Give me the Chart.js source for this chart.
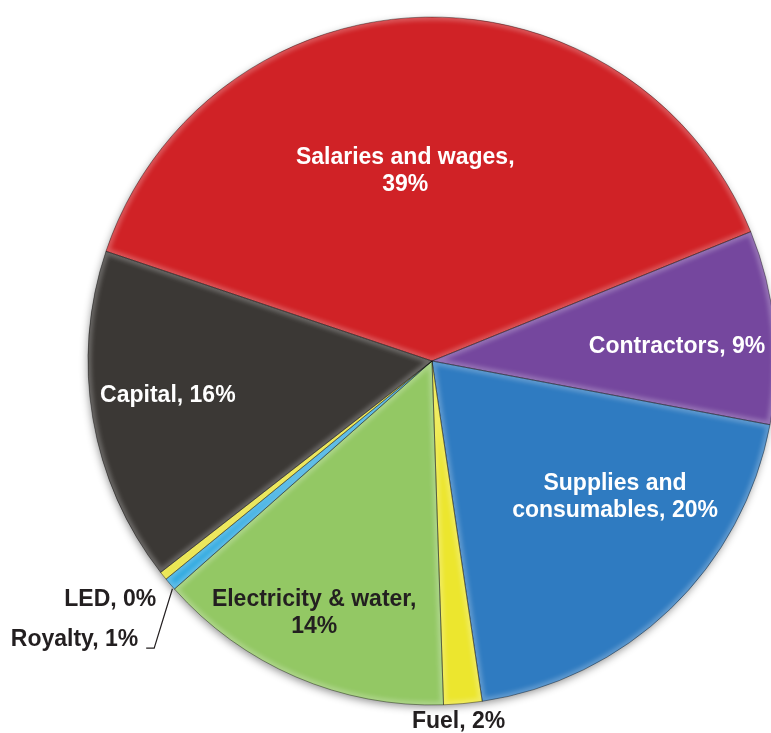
<!DOCTYPE html>
<html>
<head>
<meta charset="utf-8">
<title>Operating cost breakdown</title>
<script src="https://cdn.jsdelivr.net/npm/chart.js@4/dist/chart.umd.min.js"></script>
<style>
  html, body { margin: 0; padding: 0; background: #ffffff; overflow: hidden; }
  #wrap { width: 771px; height: 733px; overflow: hidden; }
  canvas { display: block; }
</style>
</head>
<body>
<div id="wrap"><canvas id="pie" width="800" height="733"></canvas></div>
<script>
// Cost categories, clockwise from the left edge of the largest slice
const categories = ['Salaries and wages', 'Contractors', 'Supplies and consumables', 'Fuel',
                    'Electricity & water', 'Royalty', 'LED', 'Capital'];
// Share of total cost (%)
const shares = [38.7, 9.1, 19.7, 1.8, 14.0, 0.6, 0.4, 15.7];

const sliceColors = ['#D02226', '#75479E', '#2F7BC1', '#ECE62E',
                     '#93C864', '#2FA9E0', '#E6E02C', '#3B3835'];

// Label placement: polar anchor on the slice's mid-angle (fraction of radius) plus a pixel nudge
const labelStyle = [
  { frac: 0.552, dx: -21, dy: 0,   color: '#ffffff', align: 'center', breakAfter: 'wages,' },
  { frac: 0.713, dx: 1,   dy: 10,  color: '#ffffff', align: 'center' },
  { frac: 0.663, dx: 25,  dy: -28, color: '#ffffff', align: 'center', breakAfter: 'and' },
  { frac: 1.052, dx: -6,  dy: 0,   color: '#231F20', align: 'center' },
  { frac: 0.808, dx: -8,  dy: -3,  color: '#231F20', align: 'center', breakAfter: 'water,' },
  { frac: 1.0,   dx: -32, dy: 56,  color: '#231F20', align: 'right', leader: true },
  { frac: 1.0,   dx: -7,  dy: 24,  color: '#231F20', align: 'right' },
  { frac: 0.773, dx: -2,  dy: -10, color: '#ffffff', align: 'center' }
];

const total = shares.reduce((a, b) => a + b, 0);
const FONT = 'bold 23px "Liberation Sans", Arial, Helvetica, sans-serif';
const LINE_H = 27;

function slicePath(ctx, a) {
  ctx.beginPath();
  ctx.moveTo(a.x, a.y);
  ctx.arc(a.x, a.y, a.outerRadius, a.startAngle, a.endAngle);
  ctx.closePath();
}

function arcProps(el) {
  return el.getProps(['x', 'y', 'startAngle', 'endAngle', 'outerRadius'], true);
}

// Soft drop shadow under the whole pie
const pieShadow = {
  id: 'pieShadow',
  beforeDatasetsDraw(chart) {
    const arcs = chart.getDatasetMeta(0).data;
    if (!arcs.length) return;
    const a = arcProps(arcs[0]);
    const ctx = chart.ctx;
    ctx.save();
    ctx.shadowColor = 'rgba(0,0,0,0.45)';
    ctx.shadowBlur = 9;
    ctx.shadowOffsetX = -1;
    ctx.shadowOffsetY = 3;
    ctx.fillStyle = '#ffffff';
    ctx.beginPath();
    ctx.arc(a.x, a.y, a.outerRadius - 1, 0, Math.PI * 2);
    ctx.fill();
    ctx.restore();
  }
};

// Rounded bevel: light rim inside each slice and a dark seam between slices
const bevel = {
  id: 'bevel',
  afterDatasetsDraw(chart) {
    const ctx = chart.ctx;
    chart.getDatasetMeta(0).data.forEach((el) => {
      const a = arcProps(el);
      ctx.save();
      slicePath(ctx, a);
      ctx.clip();
      ctx.filter = 'blur(2px)';
      ctx.lineWidth = 7;
      ctx.strokeStyle = 'rgba(255,255,255,0.24)';
      slicePath(ctx, a);
      ctx.stroke();
      ctx.restore();

      ctx.save();
      ctx.lineWidth = 1;
      ctx.strokeStyle = 'rgba(0,0,0,0.38)';
      slicePath(ctx, a);
      ctx.stroke();
      ctx.restore();
    });
  }
};

// Category labels with rounded percentages
const sliceLabels = {
  id: 'sliceLabels',
  afterDraw(chart) {
    const ctx = chart.ctx;
    ctx.save();
    ctx.font = FONT;
    ctx.textBaseline = 'middle';
    chart.getDatasetMeta(0).data.forEach((el, i) => {
      const a = arcProps(el);
      const st = labelStyle[i];
      const mid = (a.startAngle + a.endAngle) / 2;
      const r = a.outerRadius * st.frac;
      const px = a.x + Math.cos(mid) * r + st.dx;
      const py = a.y + Math.sin(mid) * r + st.dy;
      const pct = Math.round(shares[i] / total * 100);
      const text = categories[i] + ', ' + pct + '%';
      let lines = [text];
      if (st.breakAfter) {
        const k = text.indexOf(st.breakAfter) + st.breakAfter.length;
        lines = [text.slice(0, k).trim(), text.slice(k).trim()];
      }
      ctx.fillStyle = st.color;
      ctx.textAlign = st.align;
      const y0 = py - (lines.length - 1) * LINE_H / 2;
      lines.forEach((ln, j) => ctx.fillText(ln, px, y0 + j * LINE_H));

      if (st.leader) {
        const ex = a.x + Math.cos(mid) * (a.outerRadius + 1);
        const ey = a.y + Math.sin(mid) * (a.outerRadius + 1);
        ctx.beginPath();
        ctx.lineWidth = 1.2;
        ctx.strokeStyle = '#231F20';
        ctx.moveTo(ex + 3, ey + 4);
        ctx.lineTo(px + 16, py + 8);
        ctx.lineTo(px + 8, py + 8);
        ctx.stroke();
      }
    });
    ctx.restore();
  }
};

new Chart(document.getElementById('pie'), {
  type: 'pie',
  data: {
    labels: categories,
    datasets: [{
      data: shares,
      backgroundColor: sliceColors,
      borderWidth: 0
    }]
  },
  options: {
    responsive: false,
    animation: false,
    rotation: 288.6,
    layout: { padding: { left: 88, right: 24, top: 17, bottom: 28 } },
    plugins: {
      legend: { display: false },
      tooltip: { enabled: false }
    }
  },
  plugins: [pieShadow, bevel, sliceLabels]
});
</script>
</body>
</html>
